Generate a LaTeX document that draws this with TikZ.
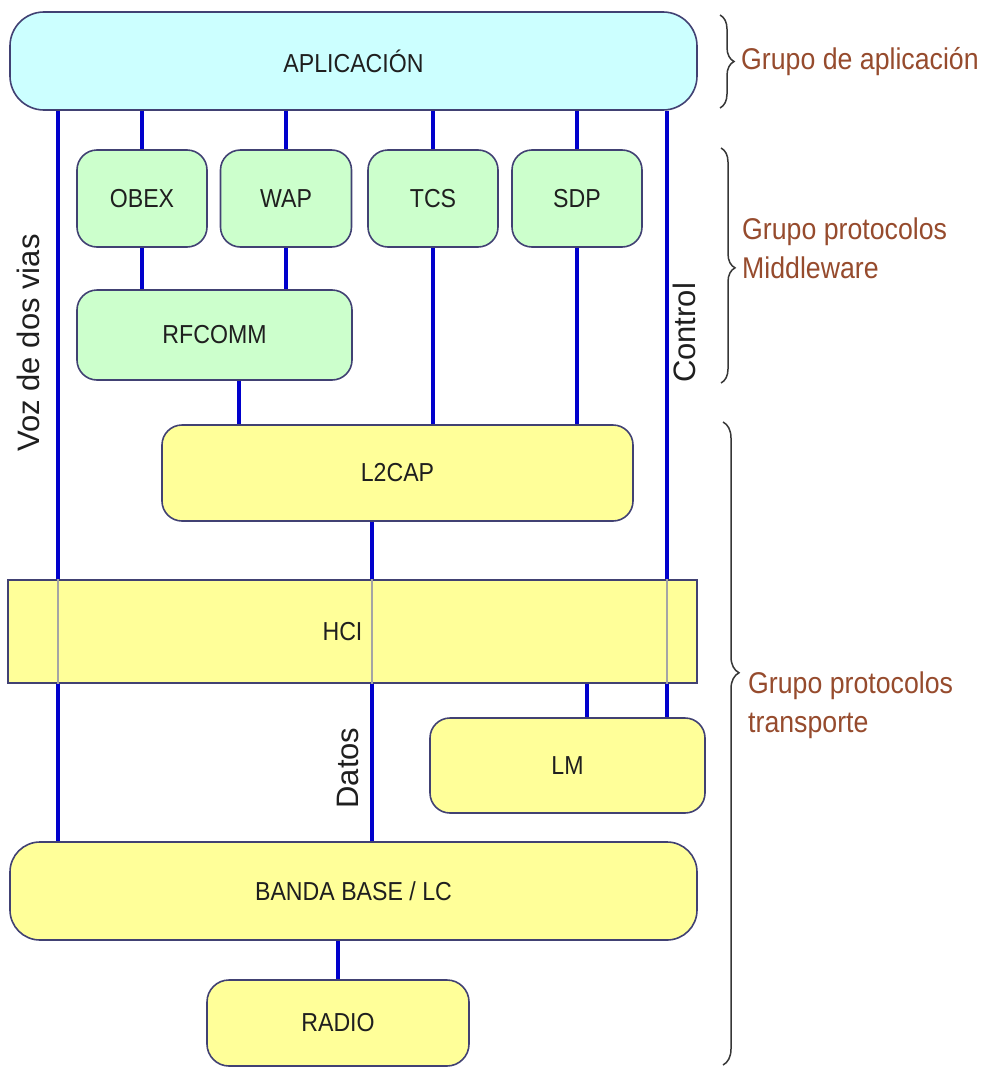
\documentclass[tikz,border=0pt]{standalone}
\usepackage{fontspec}
\setmainfont{Liberation Sans}
\newfontfamily\narrowsans[FakeStretch=0.89]{Liberation Sans}
\usetikzlibrary{decorations.pathreplacing,calc}
\definecolor{edgecol}{RGB}{65,65,115}
\definecolor{appfill}{RGB}{204,255,255}
\definecolor{midfill}{RGB}{204,255,204}
\definecolor{lowfill}{RGB}{255,255,153}
\definecolor{busblue}{RGB}{0,0,204}
\definecolor{busgray}{RGB}{165,165,165}
\definecolor{grouptext}{RGB}{150,75,45}
\definecolor{bracecol}{RGB}{55,55,55}
\begin{document}
\begin{tikzpicture}[x=1pt,y=-1pt,
  layer/.style={draw=edgecol, line width=1.6pt, rounded corners=20pt,
    inner sep=0pt, text=black!88,
    font=\narrowsans\fontsize{26}{30}\selectfont},
  appbox/.style={layer, fill=appfill, rounded corners=34pt},
  midbox/.style={layer, fill=midfill},
  lowbox/.style={layer, fill=lowfill},
  flatbox/.style={layer, fill=lowfill, rounded corners=0pt},
  link/.style={draw=busblue, line width=3.6pt},
  thru/.style={draw=busgray, line width=2pt},
  vlabel/.style={rotate=90, inner sep=0pt, text=black!88,
    font=\fontsize{31}{34}\selectfont},
  grouplabel/.style={anchor=west, align=left, inner sep=0pt, text=grouptext,
    font=\narrowsans\fontsize{30}{39}\selectfont},
  groupbrace/.style={draw=bracecol, line width=1.5pt, decorate},
]
\useasboundingbox (0,0) rectangle (992,1068);

% x positions of the vertical buses
\coordinate (vozx) at (58,0);
\coordinate (datx) at (372,0);
\coordinate (ctlx) at (667,0);
\coordinate (lmx)  at (587,0);
\coordinate (rfx)  at (239,0);

% protocol layers
\node[appbox, minimum width=687, minimum height=98] (app) at (353.5,61) {APLICACIÓN};
\node[midbox, minimum width=130, minimum height=97] (obex) at (142,198.5) {OBEX};
\node[midbox, minimum width=131, minimum height=97] (wap) at (286,198.5) {WAP};
\node[midbox, minimum width=130, minimum height=97] (tcs) at (433,198.5) {TCS};
\node[midbox, minimum width=130, minimum height=97] (sdp) at (577,198.5) {SDP};
\node[midbox, minimum width=275, minimum height=90] (rfcomm) at (214.5,335) {RFCOMM};
\node[lowbox, minimum width=471, minimum height=96] (l2cap) at (397.5,473) {L2CAP};
\node[flatbox, minimum width=689, minimum height=103] (hci) at (352.5,631.5) {HCI\hspace*{20pt}};
\node[lowbox, minimum width=275, minimum height=95] (lm) at (567.5,765.5) {LM};
\node[lowbox, minimum width=687, minimum height=98, rounded corners=30pt] (banda) at (353.5,891) {BANDA BASE / LC};
\node[lowbox, minimum width=262, minimum height=86, rounded corners=22pt] (radio) at (338,1023) {RADIO};

% connectors between layers
\draw[link] (app.south -| obex.north) -- (obex.north);
\draw[link] (app.south -| wap.north) -- (wap.north);
\draw[link] (app.south -| tcs.north) -- (tcs.north);
\draw[link] (app.south -| sdp.north) -- (sdp.north);
\draw[link] (obex.south) -- (rfcomm.north -| obex.south);
\draw[link] (wap.south) -- (rfcomm.north -| wap.south);
\draw[link] (tcs.south) -- (l2cap.north -| tcs.south);
\draw[link] (sdp.south) -- (l2cap.north -| sdp.south);
\draw[link] (rfcomm.south -| rfx) -- (l2cap.north -| rfx);
\draw[link] (hci.south -| lmx) -- (lm.north -| lmx);
\draw[link] (banda.south -| radio.north) -- (radio.north);

% long buses, crossing the HCI layer
\draw[link] (app.south -| vozx) -- (hci.north -| vozx);
\draw[link] (hci.south -| vozx) -- (banda.north -| vozx);
\draw[thru] (hci.north -| vozx) -- (hci.south -| vozx);
\draw[link] (l2cap.south -| datx) -- (hci.north -| datx);
\draw[link] (hci.south -| datx) -- (banda.north -| datx);
\draw[thru] (hci.north -| datx) -- (hci.south -| datx);
\draw[link] (app.south -| ctlx) -- (hci.north -| ctlx);
\draw[link] (hci.south -| ctlx) -- (lm.north -| ctlx);
\draw[thru] (hci.north -| ctlx) -- (hci.south -| ctlx);

% bus labels
\node[vlabel] (vozlbl) at (28,343) {Voz de dos vias};
\node[vlabel] (ctllbl) at (684,333) {Control};
\node[vlabel] (datlbl) at (348,768) {Datos};

% group braces and labels
\coordinate (b1t) at (720,15);   \coordinate (b1b) at (720,108);
\coordinate (b2t) at (721,148);  \coordinate (b2b) at (721,383);
\coordinate (b3t) at (723,422);  \coordinate (b3b) at (723,1065);
\draw[groupbrace, decoration={brace, amplitude=14pt, aspect=0.5}] (b1t) -- (b1b);
\draw[groupbrace, decoration={brace, amplitude=14pt, aspect=0.51}] (b2t) -- (b2b);
\draw[groupbrace, decoration={brace, amplitude=16pt, aspect=0.39}] (b3t) -- (b3b);
\node[grouplabel] (g1) at (741,62) {Grupo de aplicación};
\node[grouplabel] (g2) at (742,248) {Grupo protocolos\\Middleware};
\node[grouplabel] (g3) at (748,705) {Grupo protocolos\\transporte};
\end{tikzpicture}
\end{document}
